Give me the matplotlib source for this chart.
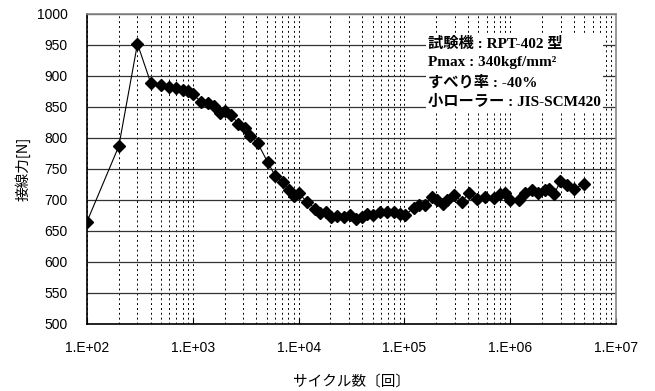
import matplotlib
matplotlib.use("Agg")
import matplotlib.pyplot as plt
from matplotlib.ticker import LogLocator, NullFormatter

# cycles and tangential force [N]
cycles = [100, 200, 300, 400, 500, 600, 700, 800, 900, 1000,
          1200, 1400, 1600, 1800, 2000, 2300, 2700, 3100, 3500, 4100,
          5100, 6000, 7100, 8200, 9000, 10000, 12000, 14400, 16100, 18100,
          20200, 23000, 26600, 30800, 34700, 39800, 44400, 50500, 59200, 68500,
          79100, 90200, 102000, 122000, 136000, 158000, 182000, 203000, 232000, 253000,
          296000, 350000, 404000, 485000, 582000, 697000, 806000, 899000, 1000000, 1200000,
          1390000, 1610000, 1850000, 2150000, 2310000, 2610000, 2980000, 3440000, 3970000, 4940000]
force = [665, 787, 952, 889, 885, 882, 881, 877, 875, 871,
         858, 856, 852, 841, 844, 837, 823, 816, 803, 792,
         761, 739, 729, 716, 706, 711, 697, 686, 679, 681,
         673, 674, 672, 676, 669, 673, 677, 676, 680, 681,
         681, 677, 676, 687, 692, 692, 705, 700, 694, 700,
         708, 697, 711, 701, 705, 703, 710, 711, 700, 700,
         711, 716, 711, 716, 717, 710, 730, 724, 717, 726]

x_ticks = [1e2, 1e3, 1e4, 1e5, 1e6, 1e7]
x_labels = ["1.E+02", "1.E+03", "1.E+04", "1.E+05", "1.E+06", "1.E+07"]
y_ticks = list(range(500, 1001, 50))

info_lines = ["試験機 : RPT-402 型", "Pmax : 340kgf/mm²", "すべり率 : -40%", "小ローラー : JIS-SCM420"]

JP = ["Noto Sans CJK JP", "DejaVu Sans"]
fig = plt.figure(figsize=(6.55, 3.91), dpi=100)
ax = fig.add_axes([0.1328, 0.1714, 0.8077, 0.7928])

ax.set_xscale("log")
ax.set_xlim(1e2, 1e7)
ax.set_ylim(500, 1000)

ax.plot(cycles, force, color="black", lw=0.8, marker="D", ms=6.5,
        mfc="black", mec="black", zorder=5)

ax.set_yticks(y_ticks)
ax.set_xticks(x_ticks)
ax.set_xticklabels(x_labels)
ax.xaxis.set_minor_locator(LogLocator(base=10, subs=range(2, 10), numticks=20))
ax.xaxis.set_minor_formatter(NullFormatter())

ax.grid(True, axis="y", which="major", color="#333333", lw=0.9, ls="-")
ax.grid(True, axis="x", which="both", color="black", lw=0.7, ls=(0, (2, 3)))
ax.set_axisbelow(True)

for s in ["top", "right"]:
    ax.spines[s].set_color("#888888")
    ax.spines[s].set_linewidth(1.2)
for s in ["left", "bottom"]:
    ax.spines[s].set_color("black")
    ax.spines[s].set_linewidth(1.2)

ax.tick_params(axis="x", which="major", direction="in", length=4, pad=12,
               labelsize=10, labelfontfamily="Liberation Sans")
ax.tick_params(axis="x", which="minor", length=0)
ax.tick_params(axis="y", which="major", direction="out", length=0, pad=14,
               labelsize=10, labelfontfamily="Liberation Sans")

ax.set_xlabel("サイクル数〔回〕", family=JP, fontsize=10.5, labelpad=14)
ax.set_ylabel("接線力[N]", family=JP, fontsize=10.5, labelpad=4)

ax.text(0.645, 0.925, "\n".join(info_lines), transform=ax.transAxes,
        family=["Liberation Serif", "Noto Sans CJK JP"], fontweight="bold",
        fontsize=11, va="top", ha="left", linespacing=1.5, zorder=6,
        bbox=dict(facecolor="white", edgecolor="none", pad=1.5))

fig.savefig("out.png", dpi=100, facecolor="white")
